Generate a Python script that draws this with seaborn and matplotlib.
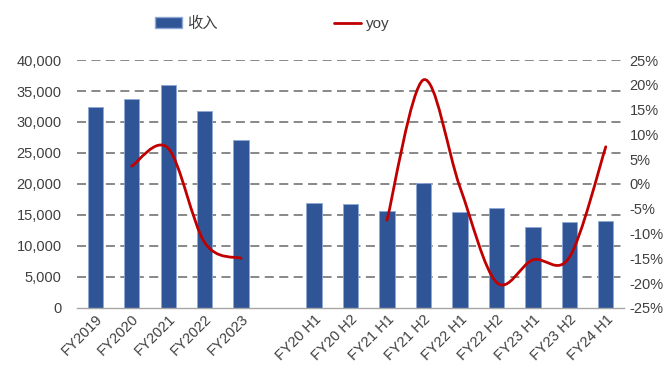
import numpy as np
import pandas as pd
import matplotlib
matplotlib.use('Agg')
import matplotlib.pyplot as plt
from matplotlib.path import Path
from matplotlib.patches import PathPatch, Patch
from matplotlib.lines import Line2D
from matplotlib.ticker import FuncFormatter
import seaborn as sns

# data
annual_labels = ['FY2019', 'FY2020', 'FY2021', 'FY2022', 'FY2023']
annual_revenue = [32500, 33700, 36000, 31800, 27100]
annual_yoy = [None, 3.6, 7.2, -11.8, -15.0]

half_labels = ['FY20 H1', 'FY20 H2', 'FY21 H1', 'FY21 H2', 'FY22 H1',
               'FY22 H2', 'FY23 H1', 'FY23 H2', 'FY24 H1']
half_revenue = [16900, 16700, 15600, 20200, 15500, 16200, 13100, 13800, 14100]
half_yoy = [None, None, -7.3, 21.0, -0.6, -19.8, -15.3, -14.8, 7.5]

gap = ' '
order = annual_labels + [gap] + half_labels

BAR = '#2F5597'
LINE = '#C00000'

sns.set_theme(style='white')
plt.rcParams['font.family'] = ['Liberation Sans', 'Noto Sans CJK SC', 'DejaVu Sans']

df = pd.DataFrame({'period': annual_labels + half_labels,
                   'revenue': annual_revenue + half_revenue})

fig = plt.figure(figsize=(6.72, 3.67), dpi=100)
ax = fig.add_axes([0.1146, 0.1608, 0.8140, 0.6757])

sns.barplot(data=df, x='period', y='revenue', order=order, color=BAR,
            width=0.42, edgecolor='#8FA8D6', linewidth=0.6, saturation=1, ax=ax)

ax.set_ylim(0, 40000)
ax.set_yticks(np.arange(0, 40001, 5000))
ax.yaxis.set_major_formatter(FuncFormatter(lambda v, p: f'{int(v):,}'))
ax.set_xlim(-0.5, len(order) - 0.5)
ax.set_xlabel('')
ax.set_ylabel('')
for yv in np.arange(5000, 40001, 5000):
    ax.axhline(yv, color='#7F7F7F', lw=1.3, ls=(0, (5, 3)), zorder=0)
ax.set_axisbelow(True)
for s in ['top', 'right', 'left']:
    ax.spines[s].set_visible(False)
ax.spines['bottom'].set_color('#A6A6A6')
ax.spines['bottom'].set_linewidth(1.0)
ax.tick_params(axis='both', length=0, labelsize=10.5, colors='#404040')
ax.tick_params(axis='y', pad=11)
ax.tick_params(axis='x', pad=3)
plt.setp(ax.get_xticklabels(), rotation=45, ha='right', rotation_mode='anchor')

ax2 = ax.twinx()
ax2.set_ylim(-25, 25)
ax2.set_yticks(np.arange(-25, 26, 5))
ax2.yaxis.set_major_formatter(FuncFormatter(lambda v, p: f'{int(v)}%'))
ax2.tick_params(axis='y', length=0, labelsize=10.5, colors='#404040', pad=4)
for s in ['top', 'right', 'left', 'bottom']:
    ax2.spines[s].set_visible(False)


def smooth_path(xs, ys):
    # Excel-style smoothed line: Catmull-Rom turned into cubic Bezier pieces
    pts = np.column_stack([xs, ys]).astype(float)
    verts = [pts[0]]
    codes = [Path.MOVETO]
    n = len(pts)
    for i in range(n - 1):
        p0 = pts[i - 1] if i > 0 else pts[i]
        p1 = pts[i]
        p2 = pts[i + 1]
        p3 = pts[i + 2] if i + 2 < n else pts[i + 1]
        c1 = p1 + (p2 - p0) / 6
        c2 = p2 - (p3 - p1) / 6
        verts += [c1, c2, p2]
        codes += [Path.CURVE4] * 3
    return Path(verts, codes)


for group, vals in [(annual_labels, annual_yoy), (half_labels, half_yoy)]:
    xs = [order.index(l) for l, v in zip(group, vals) if v is not None]
    ys = [v for v in vals if v is not None]
    ax2.add_patch(PathPatch(smooth_path(xs, ys), facecolor='none',
                            edgecolor=LINE, lw=2, capstyle='round', zorder=5))

handles = [Patch(facecolor=BAR, edgecolor='#8FA8D6', label='收入'),
           Line2D([0], [0], color=LINE, lw=2, label='yoy')]
fig.legend(handles=handles, loc='center', bbox_to_anchor=(0.405, 0.935), ncol=2,
           frameon=False, fontsize=11, columnspacing=7.6, handlelength=1.8,
           handletextpad=0.3, labelcolor='#404040')

fig.savefig('out.png', dpi=100)
